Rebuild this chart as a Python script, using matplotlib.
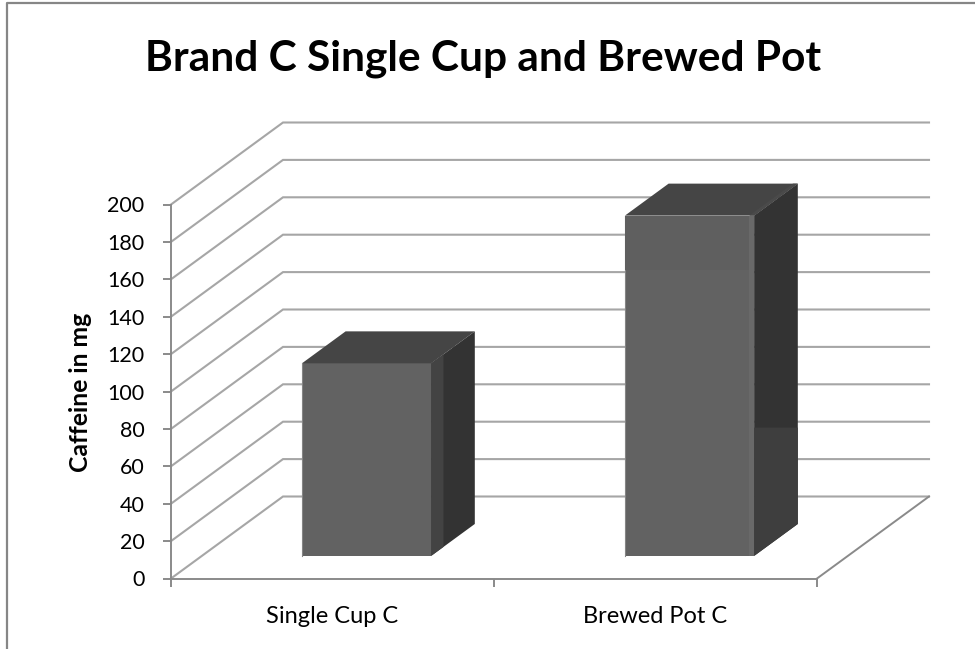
import matplotlib
matplotlib.use("Agg")
import matplotlib.pyplot as plt

categories = ["Single Cup C", "Brewed Pot C"]
caffeine = [103, 182]
y_ticks = list(range(0, 201, 20))

W, H = 975, 649
GRID = "#a6a6a6"
AXIS = "#8a8a8a"
FRONT = "#626262"
TOP = "#454545"
SIDE = "#333333"

# depth of the box, in axis units (0-2 categories, 0-200 mg)
DEPTH_X = 112 / 323
DEPTH_Y = 82 / 1.87
BAR_W = 0.4
BAR_Z0, BAR_Z1 = 0.275, 0.665
BAR_OFFSET = 0.51


def project(x, v, z):
    return x + z * DEPTH_X, v + z * DEPTH_Y


def face(ax, corners, color, zorder=3):
    pts = [project(*c) for c in corners]
    ax.fill([p[0] for p in pts], [p[1] for p in pts], color=color, lw=0, zorder=zorder, clip_on=False)


plt.rcParams["font.family"] = ["Lato", "DejaVu Sans"]
fig = plt.figure(figsize=(W / 100, H / 100), dpi=100)
ax = fig.add_axes([171 / W, 1 - 578.5 / H, 646 / W, 374 / H])
ax.set_xlim(0, 2)
ax.set_ylim(0, 200)

# chart area border, only top and left show
fig.add_artist(plt.Line2D([7 / W, 7 / W, 1], [0, 1 - 2.5 / H, 1 - 2.5 / H], color="#868686", lw=1.6))

# walls
for v in y_ticks:
    x0, y0 = project(0, v, 0)
    x1, y1 = project(0, v, 1)
    x2, y2 = project(2, v, 1)
    ax.plot([x0, x1, x2], [y0, y1, y2], color=GRID, lw=1.5, clip_on=False, zorder=1, solid_joinstyle="miter")

# floor edge on the right
x0, y0 = project(2, 0, 0)
x1, y1 = project(2, 0, 1)
ax.plot([x0, x1], [y0, y1], color=AXIS, lw=1.4, clip_on=False, zorder=1)

for i, val in enumerate(caffeine):
    left = i + BAR_OFFSET - BAR_W / 2
    right = left + BAR_W
    base = 0
    face(ax, [(left, base, BAR_Z0), (right, base, BAR_Z0), (right, val, BAR_Z0), (left, val, BAR_Z0)], FRONT)
    face(ax, [(left, val, BAR_Z0), (right, val, BAR_Z0), (right, val, BAR_Z1), (left, val, BAR_Z1)], TOP)
    face(ax, [(right, base, BAR_Z0), (right, base, BAR_Z1), (right, val, BAR_Z1), (right, val, BAR_Z0)], SIDE)
    # thin light edge down the front of each bar
    xe, ye = project(left, base, BAR_Z0)
    ax.plot([xe, xe], [ye, ye + val], color="#858585", lw=0.8, zorder=4, clip_on=False)

# shading bands on the faces
left2 = 1 + BAR_OFFSET - BAR_W / 2
right2 = left2 + BAR_W
inner2 = right2 - 0.015
val2 = caffeine[1]
face(ax, [(left2, val2 - 29, BAR_Z0), (inner2, val2 - 29, BAR_Z0), (inner2, val2, BAR_Z0), (left2, val2, BAR_Z0)], "#5f5f5f", 4)
face(ax, [(inner2, val2, BAR_Z0), (right2, val2, BAR_Z0), (right2, val2, BAR_Z1), (inner2, val2, BAR_Z1)], "#4a4a4a", 4)
face(ax, [(inner2, 0, BAR_Z0), (right2, 0, BAR_Z0), (right2, val2, BAR_Z0), (inner2, val2, BAR_Z0)], "#696969", 4)
zs = BAR_Z0 + 0.11
val1 = caffeine[0]
right1 = BAR_OFFSET + BAR_W / 2
face(ax, [(right1, 0, BAR_Z0), (right1, 0, zs), (right1, val1, zs), (right1, val1, BAR_Z0)], "#434343", 4)
# lower part of the tall bar's side is a bit lighter
x_a, y_a = project(right2, 0, BAR_Z0)
x_b, y_b = project(right2, 0, BAR_Z1)
ax.fill([x_a, x_b, x_b, x_a], [y_a, y_b, 80.7, 80.7], color="#3e3e3e", lw=0, zorder=4)

for side in ("top", "right"):
    ax.spines[side].set_visible(False)
for side in ("left", "bottom"):
    ax.spines[side].set_color(AXIS)
    ax.spines[side].set_linewidth(1.4)

ax.set_yticks(y_ticks)
ax.set_xticks([0, 1, 2])
ax.set_xticks([0.5, 1.5], categories, minor=True)
ax.tick_params(axis="x", which="major", length=6, width=1.4, color=AXIS, labelbottom=False)
ax.tick_params(axis="x", which="minor", length=0, pad=20, labelsize=17, labelcolor="black")
ax.tick_params(axis="y", length=6, width=1.4, color=AXIS, pad=13, labelsize=15.5, labelcolor="black")

fig.text(81 / W, 1 - 392 / H, "Caffeine in mg", rotation=90, fontsize=17.8, fontweight="bold", ha="center", va="center")
fig.text(483 / W, 1 - 59 / H, "Brand C Single Cup and Brewed Pot", fontsize=30.5, fontweight="bold", ha="center", va="center")

fig.savefig("out.png", dpi=100, facecolor="white")
